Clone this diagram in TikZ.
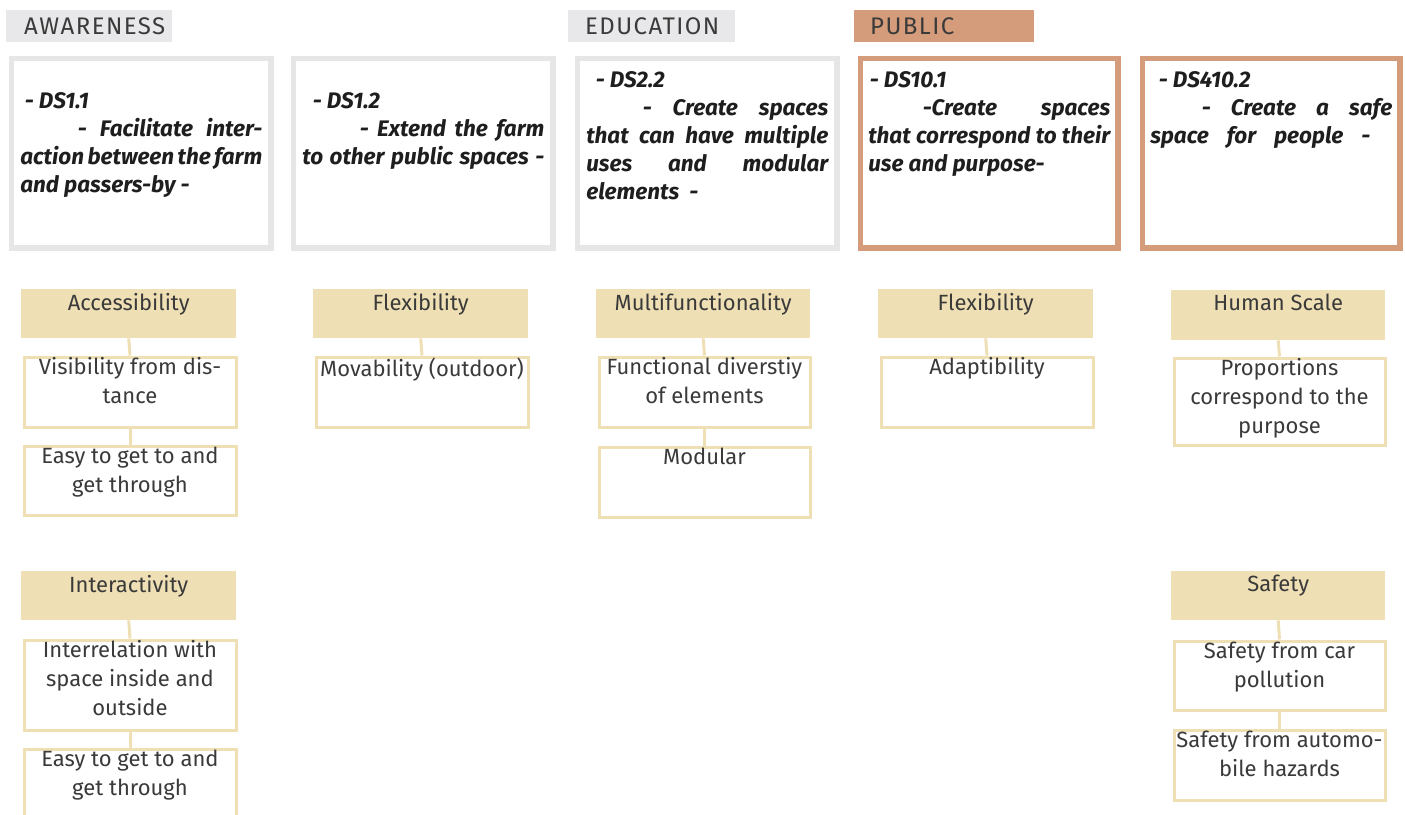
\documentclass[tikz,border=0pt]{standalone}
\usepackage{fontspec}
\setmainfont{Fira Sans}
\newfontfamily\catfont[LetterSpace=6]{Fira Sans}
\newfontfamily\wideit{Fira Sans}
\definecolor{catgray}{HTML}{E8E8EA}
\definecolor{boxgray}{HTML}{E6E6E6}
\definecolor{salmon}{HTML}{D49C7A}
\definecolor{tanfill}{HTML}{EFDFB4}
\definecolor{tanline}{HTML}{EFDFB4}
\definecolor{txt}{HTML}{3A3A3A}
\definecolor{txtdark}{HTML}{1E1E1E}
\newcommand{\cellbox}[4]{\parbox[t][#2pt][t]{#1pt}{\centering\vspace*{#3pt}#4}}
\newcommand{\topbox}[2]{\parbox[t][189.5pt][t]{242pt}{\hyphenpenalty=10000 \exhyphenpenalty=10000 \vspace*{#1pt}#2}}
\tikzset{
  cat/.style={anchor=north west, minimum height=32, inner ysep=0pt, align=left,
    font=\catfont\fontsize{24}{28}\selectfont, text=txt},
  topcell/.style={anchor=north west, line width=5.5pt, fill=white, inner xsep=8.75pt, inner ysep=0pt,
    font=\wideit\bfseries\itshape\fontsize{22.5}{28}\selectfont, text=txtdark},
  hdr/.style={anchor=north west, fill=tanfill, inner xsep=2pt, inner ysep=0pt,
    font=\fontsize{22}{29}\selectfont, text=txt},
  cell/.style={anchor=north west, draw=tanline, line width=3pt, fill=white, inner xsep=2pt, inner ysep=0pt,
    font=\fontsize{22}{29}\selectfont, text=txt},
  conn/.style={draw=tanline, line width=3pt}
}
\begin{document}
\begin{tikzpicture}[x=1pt,y=-1pt]
\useasboundingbox (0,0) rectangle (1405,814);

% category labels
\node[cat, fill=catgray, minimum width=166, inner xsep=18pt, text width=130pt] (awr) at (6,10) {AWARENESS};
\node[cat, fill=catgray, minimum width=167, inner xsep=17pt, text width=133pt] (edu) at (568,10) {EDUCATION};
\node[cat, fill=salmon, minimum width=180, inner xsep=16pt, text width=148pt] (pub) at (854,10) {PUBLIC};

% top boxes
\node[topcell, draw=boxgray] (t1) at (8.75,55.75) {\topbox{34}{\hspace*{4.5pt}- DS1.1\\
  \hspace*{57.5pt}- Facilitate inter-\linebreak action between the farm\linebreak and passers-by -}};
\node[topcell, draw=boxgray] (t2) at (290.75,55.75) {\topbox{34}{\parfillskip=0pt \hspace*{10.5pt}- DS1.2\\
  \hspace*{57.5pt}- Extend the farm\linebreak to other public spaces -}};
\node[topcell, draw=boxgray] (t3) at (574.75,55.75) {\topbox{13}{\hspace*{9.5pt}- DS2.2\\
  \hspace*{56.5pt}- Create spaces\linebreak that can have multiple\linebreak uses and modular\linebreak elements~~-}};
\node[topcell, draw=salmon, inner xsep=7.75pt] (t4) at (857.75,55.75) {\topbox{13}{\hspace*{1.5pt}- DS10.1\\
  \hspace*{54.5pt}-Create spaces\linebreak that correspond to their\linebreak use and purpose-}};
\node[topcell, draw=salmon, inner xsep=7.75pt] (t5) at (1139.75,55.75) {\topbox{13}{\parfillskip=0pt \hspace*{8.5pt}- DS410.2\\
  \hspace*{51.5pt}- Create a safe\linebreak space for people -\hspace*{22pt}}};

% column 1
\node[hdr] (a1) at (21,289) {\cellbox{211}{49}{4}{Accessibility}};
\node[cell] (a2) at (22.5,355.5) {\cellbox{208}{70}{0.5}{Visibility from dis-\\tance}};
\node[cell] (a3) at (22.5,444.5) {\cellbox{208}{69}{0.5}{Easy to get to and\\get through}};
\node[hdr] (a4) at (21,571) {\cellbox{211}{49}{4}{Interactivity}};
\node[cell] (a5) at (22.5,638.5) {\cellbox{208}{90}{0.5}{Interrelation with\\space inside and\\outside}};
\node[cell] (a6) at (22.5,747.5) {\cellbox{208}{90}{0.5}{Easy to get to and\\get through}};
\draw[conn] (a1.south) -- (a2.north);
\draw[conn] (a2.south) -- (a3.north);
\draw[conn] (a4.south) -- (a5.north);
\draw[conn] (a5.south) -- (a6.north);

% column 2
\node[hdr] (b1) at (313,289) {\cellbox{211}{49}{4}{Flexibility}};
\node[cell] (b2) at (314.5,355.5) {\cellbox{208}{70}{0.5}{Movability (outdoor)}};
\draw[conn] (b1.south) -- (b2.north);

% column 3
\node[hdr] (c1) at (596,289) {\cellbox{210}{49}{4}{Multifunctionality}};
\node[cell] (c2) at (597.5,355.5) {\cellbox{207}{70}{0.5}{Functional diverstiy\\of elements}};
\node[cell] (c3) at (597.5,445.5) {\cellbox{207}{70}{0.5}{Modular}};
\draw[conn] (c1.south) -- (c2.north);
\draw[conn] (c2.south) -- (c3.north);

% column 4
\node[hdr] (d1) at (878,289) {\cellbox{211}{49}{4}{Flexibility}};
\node[cell] (d2) at (879.5,355.5) {\cellbox{208}{70}{0.5}{Adaptibility}};
\draw[conn] (d1.south) -- (d2.north);

% column 5
\node[hdr] (e1) at (1171,290) {\cellbox{210}{50}{4}{Human Scale}};
\node[cell] (e2) at (1172.5,356.5) {\cellbox{207}{87}{0.5}{Proportions\\correspond to the\\purpose}};
\node[hdr] (e4) at (1171,571) {\cellbox{210}{49}{4}{Safety}};
\node[cell] (e5) at (1172.5,639.5) {\cellbox{207}{69}{0.5}{Safety from car\\pollution}};
\node[cell] (e6) at (1172.5,728.5) {\cellbox{207}{70}{0.5}{Safety from automo-\\bile hazards}};
\draw[conn] (e1.south) -- (e2.north);
\draw[conn] (e4.south) -- (e5.north);
\draw[conn] (e5.south) -- (e6.north);
\end{tikzpicture}
\end{document}
